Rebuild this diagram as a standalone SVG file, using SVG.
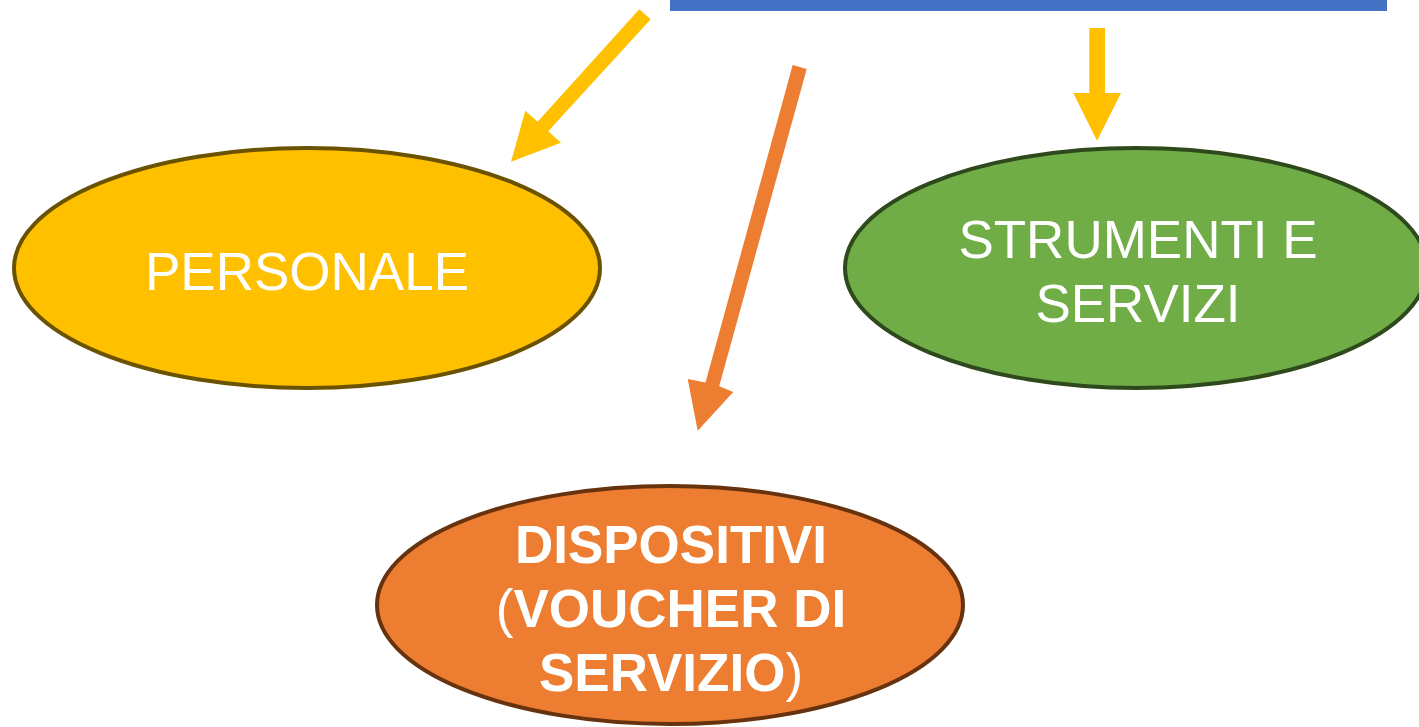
<svg xmlns="http://www.w3.org/2000/svg" width="1419" height="727" viewBox="0 0 1419 727">
<style>
.lbl{font-family:"Liberation Sans",Arial,sans-serif;font-size:53px;fill:#FFFFFF;text-anchor:middle}
.b{font-weight:bold}
.n{font-weight:normal}
</style>
<rect x="0" y="0" width="1419" height="727" fill="#FFFFFF"/>
<rect id="topbar" x="670" y="0" width="717" height="11" fill="#4472C4"/>
<g id="connectors">
<polygon fill="#FFC000" points="639.3,9.3 650.7,19.3 548.2,131.3 561,142.7 511,161.7 525.3,110.7 537.6,121.8"/>
<polygon fill="#FFC000" points="1089.3,28 1105,28 1105,93 1121,93 1097,140.7 1073.3,93 1089.3,93"/>
<polygon fill="#ED7D31" points="792.7,65 806.7,69 719.2,386.2 733.3,392 697.7,430.7 687.7,379 705.5,382.5"/>
</g>
<g id="personale">
<ellipse cx="307" cy="268" rx="293" ry="120" fill="#FFC000" stroke="#6B5200" stroke-width="4"/>
<text class="lbl" x="307" y="290">PERSONALE</text>
</g>
<g id="strumenti">
<ellipse cx="1136" cy="268" rx="291" ry="120" fill="#70AD47" stroke="#2E4A1C" stroke-width="4"/>
<text class="lbl" x="1138" y="258">STRUMENTI E</text>
<text class="lbl" x="1138" y="322">SERVIZI</text>
</g>
<g id="dispositivi">
<ellipse cx="670" cy="605" rx="293" ry="119" fill="#ED7D31" stroke="#67330E" stroke-width="4"/>
<text class="lbl b" x="671" y="563">DISPOSITIVI</text>
<text class="lbl b" x="671" y="627"><tspan class="n">(</tspan>VOUCHER DI</text>
<text class="lbl b" x="671" y="691">SERVIZIO<tspan class="n">)</tspan></text>
</g>
</svg>
